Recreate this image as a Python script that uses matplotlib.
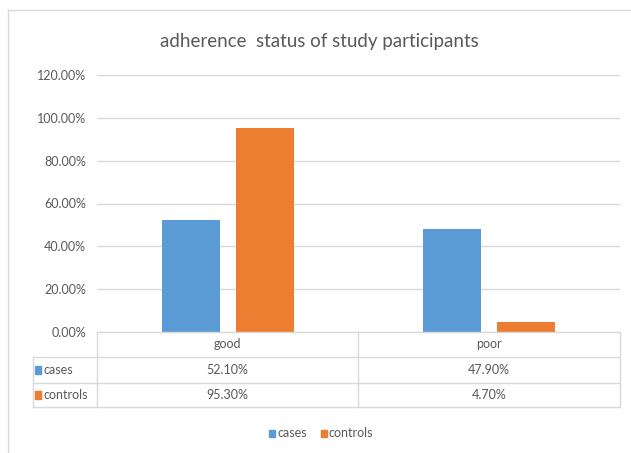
import matplotlib
matplotlib.use("Agg")
import matplotlib.pyplot as plt
from matplotlib.lines import Line2D
from matplotlib.patches import Rectangle
from matplotlib.ticker import FuncFormatter

categories = ["good", "poor"]
series_names = ["cases", "controls"]
cases = [52.10, 47.90]
controls = [95.30, 4.70]
colors = ["#5B9BD5", "#ED7D31"]
title = "adherence  status of study participants"

W, H = 631, 453
TXT = "#595959"
GRID = "#D9D9D9"
plt.rcParams["font.family"] = ["Lato", "DejaVu Sans"]


def fx(px):
    return px / W


def fy(py):
    return 1 - py / H


fig = plt.figure(figsize=(W / 100, H / 100), dpi=100)

# outer chart frame (only top and left edges fall inside the image)
fig.add_artist(Line2D([fx(8), fx(8)], [fy(10), fy(460)], color=GRID, lw=1))
fig.add_artist(Line2D([fx(8), fx(640)], [fy(10), fy(10)], color=GRID, lw=1))

left, right, top, bottom = 97, 620, 75, 332
ax = fig.add_axes([fx(left), fy(bottom), fx(right - left), (bottom - top) / H])

x = range(len(categories))
bw = 0.222
off = 0.031 + bw / 2
ax.bar([i - off for i in x], cases, width=bw, color=colors[0], zorder=3)
ax.bar([i + off for i in x], controls, width=bw, color=colors[1], zorder=3)

ax.set_xlim(-0.5, len(categories) - 0.5)
ax.set_ylim(0, 120)
ax.set_yticks(range(0, 121, 20))
ax.yaxis.set_major_formatter(FuncFormatter(lambda v, p: f"{v:.2f}%"))
ax.grid(axis="y", color=GRID, lw=1, zorder=0)
ax.set_xticks([])
ax.tick_params(axis="y", length=0, pad=8, labelsize=9, labelcolor=TXT)
for s in ax.spines.values():
    s.set_visible(False)

fig.text(fx(319), fy(42), title, ha="center", va="center", fontsize=13.5, color=TXT)

# data table below the axis
rows_y = [332, 357, 383, 407]
col_x = [33, 97, (left + right) / 2, 620]
# horizontal lines
fig.add_artist(Line2D([fx(97), fx(620)], [fy(rows_y[0])] * 2, color=GRID, lw=1))
for ry in rows_y[1:]:
    fig.add_artist(Line2D([fx(33), fx(620)], [fy(ry)] * 2, color=GRID, lw=1))
# vertical lines
fig.add_artist(Line2D([fx(33)] * 2, [fy(357), fy(407)], color=GRID, lw=1))
for cx in col_x[1:]:
    fig.add_artist(Line2D([fx(cx)] * 2, [fy(332), fy(407)], color=GRID, lw=1))

for j, cat in enumerate(categories):
    cx = (col_x[j + 1] + col_x[j + 2]) / 2
    fig.text(fx(cx), fy((rows_y[0] + rows_y[1]) / 2), cat, ha="center", va="center",
             fontsize=9, color=TXT)
    for r, vals in enumerate([cases, controls]):
        yc = (rows_y[r + 1] + rows_y[r + 2]) / 2
        fig.text(fx(cx), fy(yc), f"{vals[j]:.2f}%", ha="center", va="center",
                 fontsize=9, color=TXT)

for r, name in enumerate(series_names):
    yc = (rows_y[r + 1] + rows_y[r + 2]) / 2
    fig.add_artist(Rectangle((fx(35), fy(yc + 4)), fx(6), 8 / H, color=colors[r]))
    fig.text(fx(44), fy(yc), name, ha="left", va="center", fontsize=9, color=TXT)

# legend
leg_x = [269, 321]
for k, name in enumerate(series_names):
    fig.add_artist(Rectangle((fx(leg_x[k]), fy(437)), fx(6), 7 / H, color=colors[k]))
    fig.text(fx(leg_x[k] + 8), fy(433), name, ha="left", va="center", fontsize=9, color=TXT)

fig.savefig("out.png", dpi=100, facecolor="white")
